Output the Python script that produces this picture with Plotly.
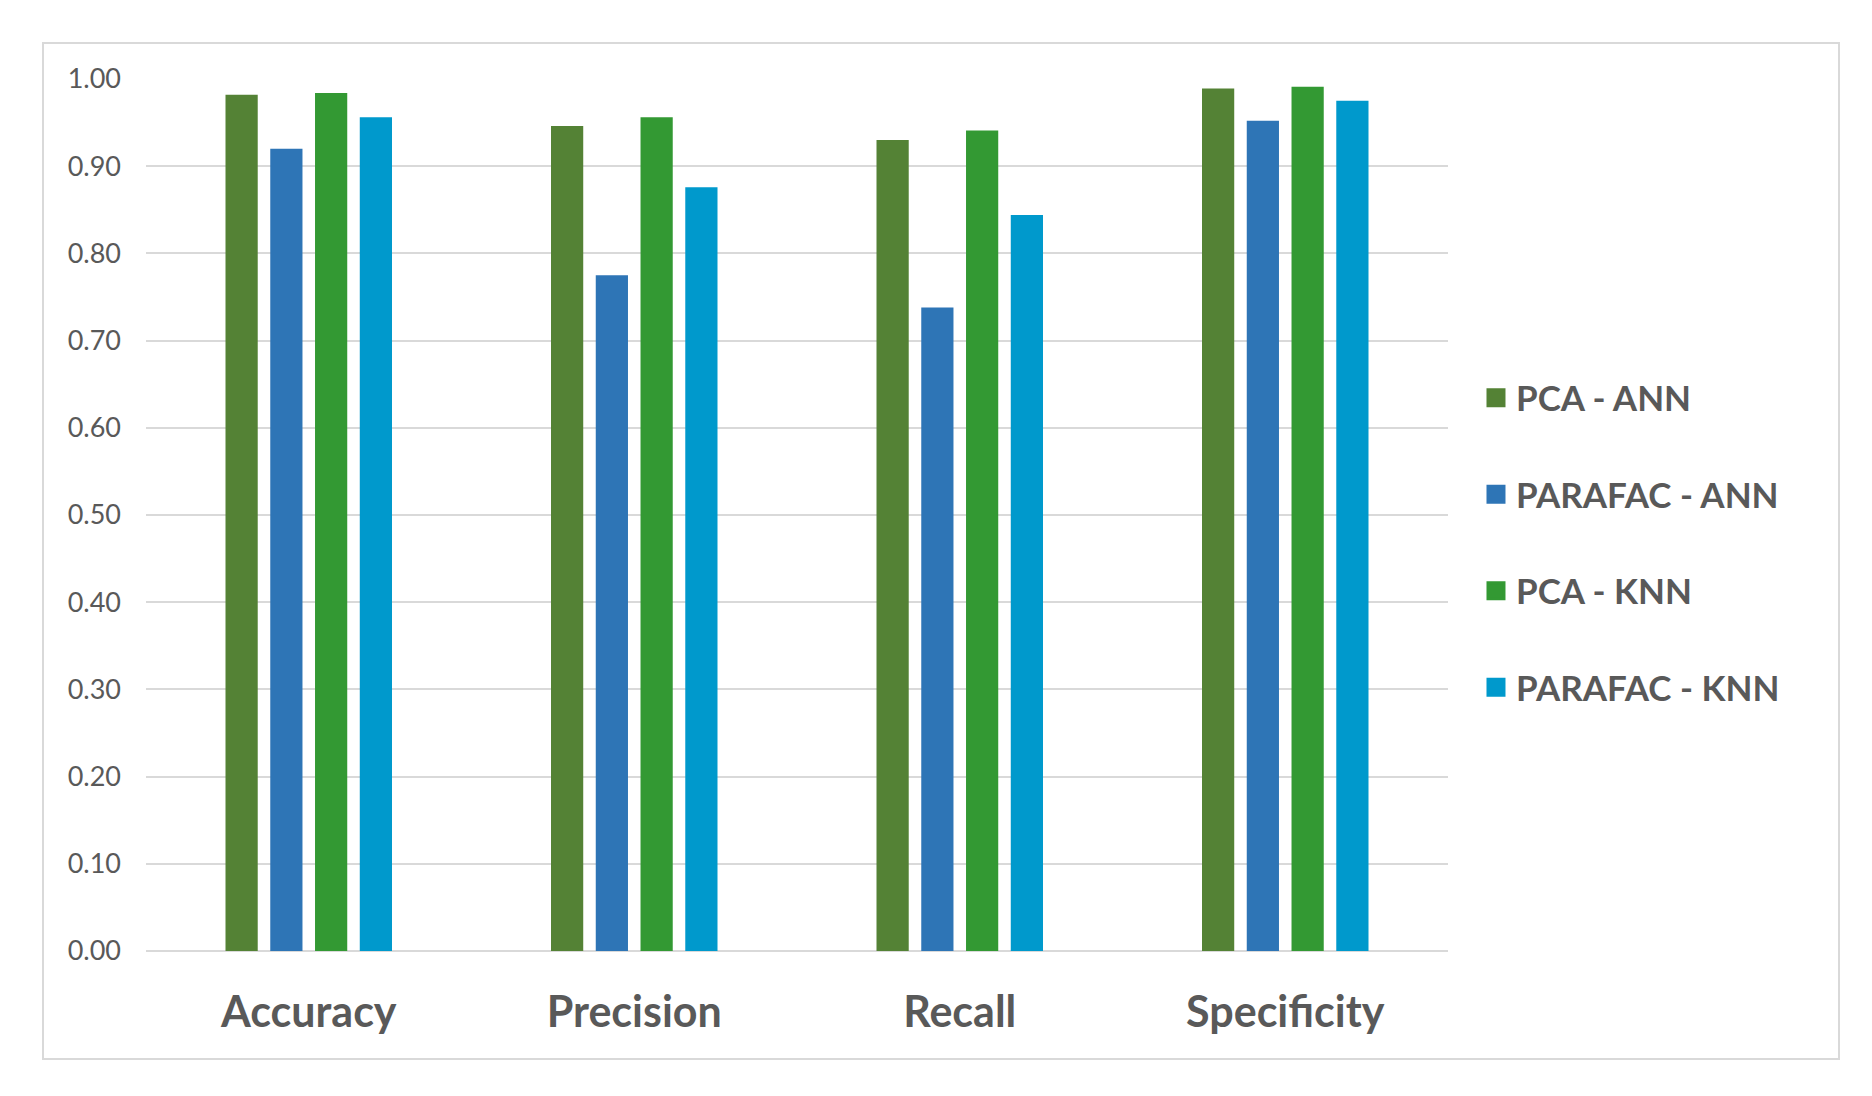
import plotly.graph_objects as go

categories = ["Accuracy", "Precision", "Recall", "Specificity"]
pca_ann = [0.982, 0.946, 0.930, 0.989]
parafac_ann = [0.920, 0.775, 0.738, 0.952]
pca_knn = [0.984, 0.956, 0.941, 0.991]
parafac_knn = [0.956, 0.876, 0.844, 0.975]
series_names = ["PCA - ANN", "PARAFAC - ANN", "PCA - KNN", "PARAFAC - KNN"]
series_values = [pca_ann, parafac_ann, pca_knn, parafac_knn]
colors = ["#548235", "#2E75B6", "#339933", "#0099CC"]
y_ticks = [0.0, 0.1, 0.2, 0.3, 0.4, 0.5, 0.6, 0.7, 0.8, 0.9, 1.0]

FONT = "Lato"
GRAY = "#595959"

fig = go.Figure()
for i, (name, vals, col) in enumerate(zip(series_names, series_values, colors)):
    fig.add_trace(go.Bar(x=categories, y=vals, name=name, marker_color=col,
                         marker_line_width=0, showlegend=False))
for i, (name, col) in enumerate(zip(series_names, colors)):
    fig.add_trace(go.Scatter(x=[None], y=[None], mode="markers", name=name,
                             legendgroup=f"g{i}",
                             marker=dict(symbol="square", size=16, color=col,
                                         line=dict(color=col, width=3))))

fig.update_layout(
    width=1864, height=1088,
    paper_bgcolor="white", plot_bgcolor="white",
    margin=dict(l=138, r=424, t=71, b=145),
    barmode="group", bargap=0.45, bargroupgap=0.28,
    font=dict(family=FONT, color=GRAY),
    legend=dict(x=1.0215, xanchor="left", y=0.4685, yanchor="middle",
                traceorder="grouped", tracegroupgap=48,
                font=dict(family=FONT, size=35, color=GRAY, weight="bold"),
                bgcolor="rgba(0,0,0,0)"),
    shapes=[dict(type="rect", xref="paper", yref="paper",
                 x0=-0.0791, x1=1.3003, y0=-0.1239, y1=1.0413,
                 line=dict(color="#d9d9d9", width=2), layer="below")],
)
fig.update_yaxes(range=[0, 1.0], tickvals=y_ticks, tickformat=".2f",
                 showgrid=True, gridcolor="#d9d9d9", gridwidth=2,
                 zeroline=True, zerolinecolor="#d9d9d9", zerolinewidth=2,
                 showline=False, ticks="", ticklabelstandoff=24,
                 tickfont=dict(family=FONT, size=27, color=GRAY))
fig.update_xaxes(showgrid=False, showline=False, ticks="",
                 ticklabelstandoff=32,
                 tickfont=dict(family=FONT, size=43, color=GRAY, weight="bold"))

fig.write_html("out.html")
